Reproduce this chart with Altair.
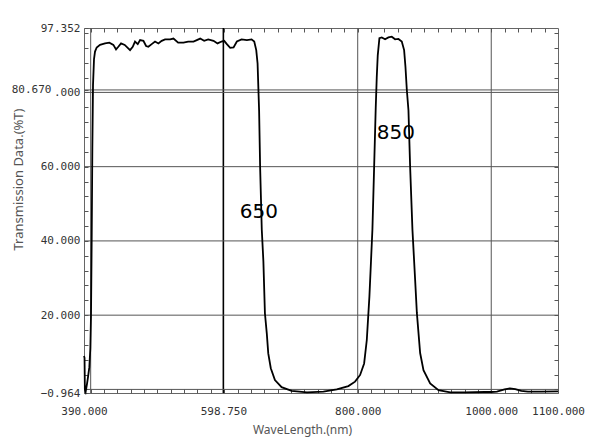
import pandas as pd
import altair as alt

# transmission curve
wavelength = [
    390.0, 390.8, 391.3, 392.5, 394.5, 396.0, 398.0, 399.5, 400.5, 401.5,
    402.5, 403.5, 405.0, 406.5, 409.0, 414.0, 421.5, 428.0, 434.0, 438.0,
    441.4, 445.5, 451.0, 459.0, 463.0, 466.4, 470.5, 474.0, 479.0, 483.0,
    486.4, 491.4, 496.4, 501.4, 506.4, 511.4, 519.0, 524.0, 531.0, 539.0,
    546.0, 554.0, 559.0, 564.0, 570.0, 576.0, 584.0, 590.0, 596.0, 600.0,
    604.0, 609.0, 614.0, 619.0, 626.0, 634.0, 641.0, 645.0, 648.0, 650.0,
    652.3, 653.8, 656.3, 658.7, 661.0, 663.8, 666.0, 669.8, 676.0, 686.0,
    701.0, 724.0, 748.6, 768.7, 786.0, 796.0, 803.6, 809.6, 813.6, 817.5,
    820.0, 822.0, 824.6, 827.0, 828.5, 830.0, 832.5, 836.0, 841.0, 846.0,
    851.0, 856.0, 861.0, 866.0, 869.5, 871.5, 873.6, 876.0, 878.5, 882.0,
    886.0, 888.6, 893.5, 898.5, 908.5, 921.0, 938.5, 960.0, 990.0, 1000.0,
    1008.5, 1020.0, 1028.0, 1036.0, 1045.0, 1055.0, 1075.0, 1100.0,
]
transmission = [
    9.0, 8.5, 0.0, -0.6, 1.5, 3.3, 6.0, 11.0, 20.0, 40.0,
    65.0, 82.0, 89.0, 91.0, 92.1, 92.8, 93.2, 93.4, 92.8, 91.6,
    92.3, 93.2, 92.8, 91.4, 92.3, 93.7, 93.0, 94.1, 93.9, 92.5,
    92.3, 93.0, 93.7, 93.2, 93.9, 94.3, 94.3, 94.5, 93.4, 93.4,
    93.7, 93.7, 94.1, 94.5, 93.9, 94.3, 93.9, 93.2, 93.7, 93.9,
    93.0, 92.0, 92.1, 93.7, 94.3, 94.1, 94.3, 93.7, 91.4, 87.8,
    75.0, 60.0, 43.0, 34.5, 20.5, 15.1, 9.7, 5.7, 2.5, 0.6,
    -0.4, -0.8, -0.6, 0.0, 0.9, 2.1, 3.9, 7.0, 13.3, 25.0,
    35.0, 43.0, 60.0, 76.0, 84.0, 90.0, 94.6, 94.8, 94.3, 94.8,
    95.0, 94.3, 94.4, 93.7, 91.4, 86.9, 80.6, 75.2, 60.0, 42.9,
    29.5, 20.6, 9.8, 5.2, 1.6, -0.2, -0.8, -0.8, -0.7, -0.7,
    -0.6, 0.0, 0.3, 0.1, -0.4, -0.6, -0.6, -0.5,
]

# annotations
note_text = ['650', '850']
note_nm = [652.0, 857.0]
note_t = [46.2, 67.4]

# axes
x_min, x_max = 390.0, 1100.0
y_min, y_max = -0.964, 97.352
x_labels = [390.0, 598.75, 800.0, 1000.0, 1100.0]
x_minor = list(range(400, 1100, 20))
y_labels = [-0.964, 20.0, 40.0, 60.0, 80.0, 80.67, 97.352]
y_minor = list(range(0, 97, 4))
grid_x = [400.0, 800.0, 1000.0]
cursor_x = [598.75]
grid_y = [0.0, 20.0, 40.0, 60.0, 80.0, 80.67]

LABEL_FONT = 'DejaVu Sans Mono'
TITLE_FONT = 'Noto Sans'
LINE_GREY = '#555555'

xs = alt.Scale(domain=[x_min, x_max], nice=False, zero=False)
ys = alt.Scale(domain=[y_min, y_max], nice=False, zero=False)

curve_df = pd.DataFrame({'nm': wavelength, 'T': transmission})
notes_df = pd.DataFrame({'t': note_text, 'nm': note_nm, 'T': note_t})

bottom_axis = alt.Axis(
    orient='bottom', offset=-4, values=sorted(set(x_minor + x_labels)),
    labelExpr="indexof([390, 598.75, 800, 1000, 1100], datum.value) >= 0 ? format(datum.value, '.3f') : ''",
    tickSize=4, tickColor=LINE_GREY, domain=False, grid=False,
    labelFont=LABEL_FONT, labelFontSize=11, labelColor='#333333',
    labelPadding=12, labelFlush=False, labelOverlap=False, labelBound=False,
    title='WaveLength.(nm)', titleFont=TITLE_FONT, titleFontSize=12,
    titleFontWeight='normal', titleColor=LINE_GREY, titleX=218, titleY=40,
    titleAlign='center', titleBaseline='middle',
)

left_axis = alt.Axis(
    orient='left', offset=-4, values=sorted(set(y_minor + y_labels)),
    labelExpr="datum.value == 80 ? '.000' : (indexof([-0.964, 20, 40, 60, 80.67, 97.352], datum.value) >= 0 ? format(datum.value, '.3f') : '')",
    labelPadding={'condition': {'test': 'datum.value == 80.67', 'value': 33}, 'value': 4},
    tickSize=4, tickColor=LINE_GREY, domain=False, grid=False,
    labelFont=LABEL_FONT, labelFontSize=11, labelColor='#333333',
    labelOverlap=False, labelBound=False,
    title='Transmission Data.(%T)', titleFont=TITLE_FONT, titleFontSize=13,
    titleFontWeight='normal', titleColor=LINE_GREY, titleX=-70, titleY=151,
    titleAlign='center', titleBaseline='middle', titleAngle=270,
)

top_axis = alt.Axis(
    orient='top', offset=-4, values=x_minor, tickSize=4, tickColor=LINE_GREY,
    labels=False, domain=False, grid=False,
)

right_axis = alt.Axis(
    orient='right', offset=-4, values=y_minor, tickSize=4, tickColor=LINE_GREY,
    labels=False, domain=False, grid=False,
)

vgrid = alt.Chart(pd.DataFrame({'x': grid_x})).mark_rule(
    color=LINE_GREY, strokeWidth=1
).encode(
    x=alt.X('x:Q', scale=xs, axis=bottom_axis)
)

cursor = alt.Chart(pd.DataFrame({'x': cursor_x})).mark_rule(
    color='black', strokeWidth=1.6
).encode(
    x=alt.X('x:Q', scale=xs, axis=None)
)

hgrid = alt.Chart(pd.DataFrame({'y': grid_y})).mark_rule(
    color=LINE_GREY, strokeWidth=1
).encode(
    y=alt.Y('y:Q', scale=ys, axis=left_axis)
)

curve = alt.Chart(curve_df).mark_line(
    color='black', strokeWidth=1.8
).encode(
    x=alt.X('nm:Q', scale=xs, axis=top_axis, title=None),
    y=alt.Y('T:Q', scale=ys, axis=right_axis, title=None),
)

notes = alt.Chart(notes_df).mark_text(
    font='DejaVu Sans', fontSize=20, color='black', align='center', baseline='alphabetic'
).encode(
    x=alt.X('nm:Q', scale=xs, axis=None),
    y=alt.Y('T:Q', scale=ys, axis=None),
    text='t:N',
)

chart = alt.layer(vgrid, cursor, hgrid, curve, notes).resolve_axis(
    x='independent', y='independent'
).properties(
    width=474,
    height=365,
    autosize=alt.AutoSizeParams(type='none'),
    padding={'left': 76, 'top': 20, 'right': 34, 'bottom': 46},
    background='white',
).configure_view(
    stroke='#666666',
    strokeWidth=1,
)

chart.save('out.html', embed_options={'renderer': 'svg', 'actions': False})
